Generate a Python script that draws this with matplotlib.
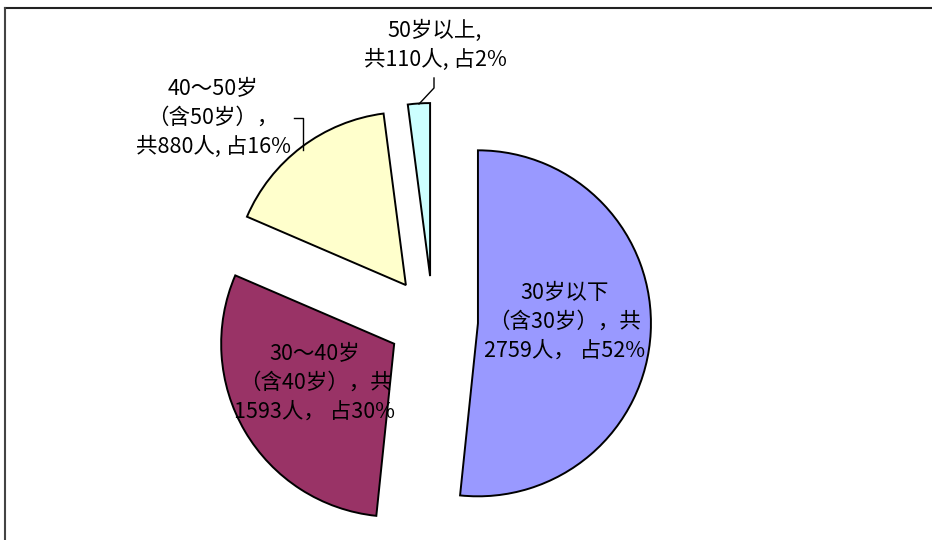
import matplotlib
matplotlib.use("Agg")
import matplotlib.pyplot as plt
from matplotlib.lines import Line2D

plt.rcParams['font.family'] = ['Noto Sans CJK SC', 'DejaVu Sans']

categories = ["30岁以下（含30岁）", "30～40岁（含40岁）", "40～50岁（含50岁）", "50岁以上"]
counts = [2759, 1593, 880, 110]
labels = ["30岁以下\n（含30岁），共\n2759人， 占52%",
          "30～40岁\n（含40岁），共\n1593人， 占30%",
          "40～50岁\n（含50岁），\n共880人, 占16%",
          "50岁以上,\n共110人, 占2%"]
colors = ["#9999FF", "#993366", "#FFFFCC", "#CCFFFF"]

fig = plt.figure(figsize=(9.32, 5.40), dpi=100)
ax = fig.add_axes([0, 0, 1, 1])
ax.set_xlim(0, 932)
ax.set_ylim(0, 540)
ax.set_aspect('equal')
ax.axis('off')

wedges, _ = ax.pie(counts, colors=colors, startangle=90, counterclock=False,
                   center=(433, 219), radius=173, explode=[45, 45, 45, 45],
                   wedgeprops=dict(edgecolor='black', linewidth=1.4))
ax.set_xlim(0, 932)
ax.set_ylim(0, 540)

fs = 15.5
ls = 1.42
ax.text(565, 218, labels[0], ha='center', va='center', multialignment='center',
        fontsize=fs, linespacing=ls, color='black')
ax.text(315, 157, labels[1], ha='center', va='center', multialignment='center',
        fontsize=fs, linespacing=ls, color='black')
ax.text(213, 422, labels[2], ha='center', va='center', multialignment='center',
        fontsize=fs, linespacing=ls, color='black')
ax.text(435, 495, labels[3], ha='center', va='center', multialignment='center',
        fontsize=fs, linespacing=ls, color='black')

# leader lines
ax.plot([294, 303, 303], [422, 422, 390], color='black', linewidth=1)
ax.plot([434, 434, 419], [462, 452, 436], color='black', linewidth=1)

# frame (top and left)
fig.add_artist(Line2D([5 / 932, 1], [1 - 8 / 540, 1 - 8 / 540], transform=fig.transFigure,
                      color='#222222', linewidth=1.5))
fig.add_artist(Line2D([5 / 932, 5 / 932], [0, 1 - 8 / 540], transform=fig.transFigure,
                      color='#444444', linewidth=1.5))

fig.savefig("out.png", dpi=100)
